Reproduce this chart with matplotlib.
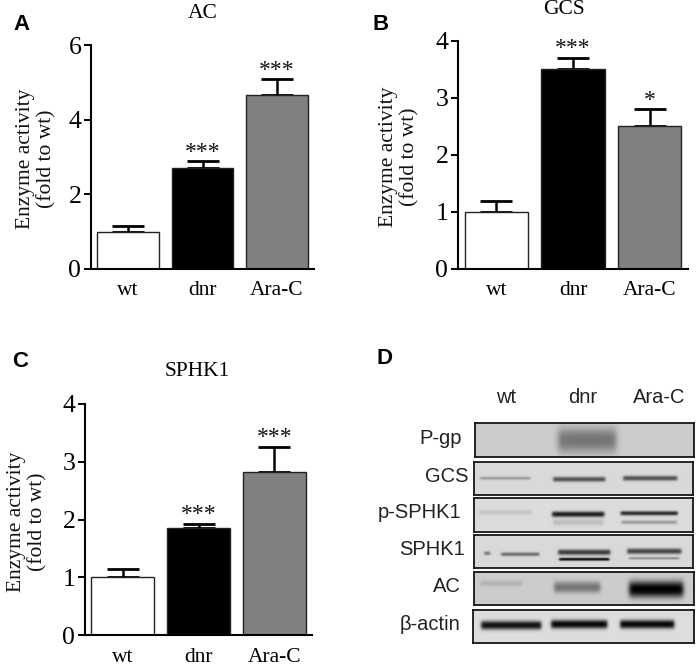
import numpy as np
import matplotlib
matplotlib.use("Agg")
import matplotlib.pyplot as plt

W, H = 697, 666
SERIF = "Liberation Serif"
SANS = "Liberation Sans"

categories = ["wt", "dnr", "Ara-C"]
ac_values = [1.0, 2.7, 4.65]
ac_errors = [0.15, 0.2, 0.45]
ac_stars = ["", "***", "***"]
gcs_values = [1.0, 3.5, 2.5]
gcs_errors = [0.2, 0.2, 0.3]
gcs_stars = ["", "***", "*"]
sphk_values = [1.0, 1.85, 2.83]
sphk_errors = [0.14, 0.07, 0.42]
sphk_stars = ["", "***", "***"]
bar_colors = ["white", "black", "#808080"]
blot_labels = ["P-gp", "GCS", "p-SPHK1", "SPHK1", "AC", "β-actin"]

# band tuples: centre x, centre y, width, height, darkness (figure pixels)
blot_boxes = [(475, 423, 694, 457), (474, 462, 693, 495), (474, 498, 693, 532),
              (474, 535, 693, 568), (474, 572, 694, 605), (473, 610, 694, 643)]
blot_bg = [0.80, 0.85, 0.86, 0.85, 0.80, 0.87]
blot_bands = [
    [(587, 440, 58, 20, 0.42)],
    [(505, 478, 50, 2.5, 0.28), (579, 479, 52, 4, 0.62), (650, 478, 54, 4, 0.62)],
    [(505, 512, 52, 4, 0.10), (578, 514, 52, 4.5, 0.85), (578, 522, 50, 5, 0.14),
     (649, 513, 57, 3.5, 0.8), (649, 522, 55, 3, 0.28)],
    [(520, 554, 38, 3, 0.5), (487, 553, 6, 3, 0.45), (584, 552, 52, 4.5, 0.72),
     (584, 559, 50, 2.5, 0.95), (654, 551, 54, 4.5, 0.68), (654, 558, 50, 2, 0.35)],
    [(501, 583, 42, 5, 0.12), (577, 587, 46, 9, 0.42), (656, 589, 54, 13, 1.0)],
    [(511, 625, 60, 7, 0.92), (579, 624, 56, 7, 0.97), (647, 624, 54, 7, 0.97)],
]


def add_axes(left, top, right, bottom):
    return fig.add_axes([left / W, 1 - bottom / H, (right - left) / W, (bottom - top) / H])


def bar_panel(box, values, errors, stars, ymax, title, title_xy, letter, letter_xy, ylab_x, star_gap):
    ax = add_axes(*box)
    x = np.arange(len(values))
    ax.bar(x, values, width=0.83, color=bar_colors, edgecolor="#222222", linewidth=1.0, zorder=2)
    ax.errorbar(x, values, yerr=[np.zeros(len(errors)), errors], fmt="none", ecolor="black",
                elinewidth=1.8, capsize=11.5, capthick=2.0, zorder=1)
    for xi, v, e, s in zip(x, values, errors, stars):
        if s:
            ax.text(xi, v + e + star_gap, s, ha="center", va="center", family=SERIF,
                    fontsize=17, color="#111111")
    ax.set_xlim(-0.5, 2.5)
    ax.set_ylim(0, ymax)
    ax.set_yticks(np.arange(0, ymax + 1, 2 if ymax == 6 else 1))
    ax.set_xticks(x)
    ax.set_xticklabels(categories, family=SERIF, fontsize=15.5)
    ax.tick_params(axis="x", length=0, pad=9)
    ax.tick_params(axis="y", length=5, width=1.4, pad=2, labelsize=18.5)
    for t in ax.get_yticklabels():
        t.set_family(SERIF)
    for sp in ("top", "right"):
        ax.spines[sp].set_visible(False)
    for sp in ("left", "bottom"):
        ax.spines[sp].set_linewidth(1.5)
    fig.text(ylab_x / W, 1 - (box[1] + box[3]) / 2 / H - 0.003, "Enzyme activity\n(fold to wt)",
             rotation=90, ha="center", va="center", family=SERIF, fontsize=15.5,
             linespacing=1.15, color="#111111")
    fig.text(title_xy[0] / W, 1 - title_xy[1] / H, title, ha="center", va="center",
             family=SERIF, fontsize=15.5)
    fig.text(letter_xy[0] / W, 1 - letter_xy[1] / H, letter, ha="center", va="center",
             family=SANS, fontsize=16, fontweight="bold")


def blot(box, bg, bands):
    l, t, r, b = box
    ax = add_axes(l, t, r, b)
    xs = np.arange(l, r, 0.5)
    ys = np.arange(t, b, 0.5)
    X, Y = np.meshgrid(xs, ys)
    dark = np.zeros_like(X)
    for cx, cy, w, h, d in bands:
        soft = max(1.2, 0.12 * h + 0.9)
        px = 0.5 * (np.tanh((X - cx + w / 2) / soft) - np.tanh((X - cx - w / 2) / soft))
        py = np.exp(-(np.abs(Y - cy) / (0.62 * h)) ** 2.4)
        dark = 1 - (1 - dark) * (1 - d * px * py)
    img = bg * (1 - dark)
    ax.imshow(img, cmap="gray", vmin=0, vmax=1, extent=(l, r, b, t), aspect="auto",
              interpolation="bilinear")
    ax.set_xticks([])
    ax.set_yticks([])
    for sp in ax.spines.values():
        sp.set_linewidth(1.3)
        sp.set_color("#151515")


fig = plt.figure(figsize=(W / 100, H / 100), dpi=100, facecolor="white")

bar_panel((91, 45, 314, 269), ac_values, ac_errors, ac_stars, 6, "AC", (203, 14),
          "A", (21, 24), 36, 0.22)
bar_panel((458, 41, 688, 269), gcs_values, gcs_errors, gcs_stars, 4, "GCS", (564, 9),
          "B", (381, 24), 399, 0.16)
bar_panel((85, 404, 312, 635), sphk_values, sphk_errors, sphk_stars, 4, "SPHK1", (197, 372),
          "C", (20, 361), 27, 0.17)

fig.text(385 / W, 1 - 358 / H, "D", ha="center", va="center", family=SANS, fontsize=16, fontweight="bold")

for box, bg, bands in zip(blot_boxes, blot_bg, blot_bands):
    blot(box, bg, bands)

lane_x = [506, 583, 659]
for name, lx in zip(categories, lane_x):
    fig.text(lx / W, 1 - 397 / H, name, ha="center", va="center", family=SANS, fontsize=14.5, color="#222222")

label_right = [462, 469, 461, 465, 461, 460]
for name, box, xr in zip(blot_labels, blot_boxes, label_right):
    fig.text(xr / W, 1 - ((box[1] + box[3]) / 2 - 2) / H, name, ha="right", va="center",
             family=SANS, fontsize=14.5, color="#222222")

fig.savefig("out.png", dpi=100, facecolor="white")
